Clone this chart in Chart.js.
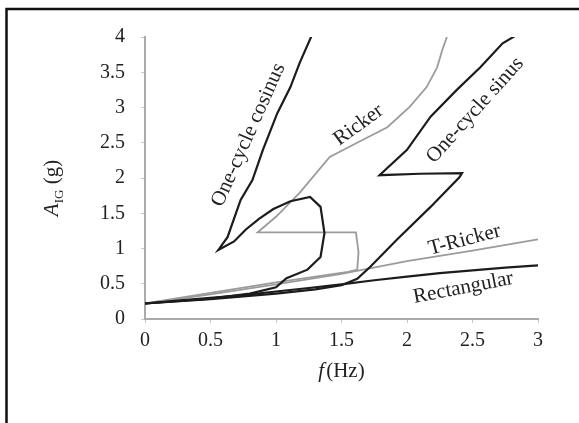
<!DOCTYPE html>
<html><head><meta charset="utf-8">
<script src="https://cdn.jsdelivr.net/npm/chart.js@4/dist/chart.umd.min.js"></script>
<style>html,body{margin:0;padding:0;background:#fff}</style>
</head><body>
<canvas id="c" width="579" height="423"></canvas>
<script>
// Tick values
const xTicks = [0, 0.5, 1, 1.5, 2, 2.5, 3];
const yTicks = [0, 0.5, 1, 1.5, 2, 2.5, 3, 3.5, 4];

// Series: One-cycle cosinus (black)
const cosF = [0, 0.5, 0.8, 1.0, 1.08, 1.24, 1.34, 1.37, 1.34, 1.26, 1.11, 0.98, 0.87, 0.77, 0.68, 0.56, 0.63, 0.73, 0.82, 0.90, 1.01, 1.11, 1.18, 1.27];
const cosA = [0.22, 0.29, 0.36, 0.45, 0.58, 0.70, 0.88, 1.22, 1.59, 1.73, 1.67, 1.56, 1.42, 1.27, 1.10, 0.98, 1.16, 1.69, 1.97, 2.40, 2.92, 3.29, 3.63, 4.01];

// Series: Ricker (grey)
const rickF = [0, 0.5, 1.0, 1.3, 1.55, 1.62, 1.63, 1.61, 1.3, 0.86, 1.0, 1.18, 1.41, 1.66, 1.85, 2.02, 2.15, 2.23, 2.27, 2.31];
const rickA = [0.22, 0.37, 0.52, 0.60, 0.67, 0.70, 0.95, 1.23, 1.23, 1.23, 1.45, 1.79, 2.30, 2.54, 2.72, 3.01, 3.29, 3.57, 3.82, 4.03];

// Series: One-cycle sinus (black)
const sinF = [0, 0.5, 1.0, 1.3, 1.5, 1.62, 1.72, 1.92, 2.18, 2.40, 2.42, 2.10, 1.79, 2.0, 2.18, 2.38, 2.56, 2.73, 2.82];
const sinA = [0.22, 0.28, 0.36, 0.42, 0.48, 0.57, 0.74, 1.12, 1.59, 2.01, 2.07, 2.06, 2.04, 2.40, 2.87, 3.25, 3.57, 3.91, 4.01];

// Series: T-Ricker (grey)
const tRickF = [0, 0.5, 1.0, 1.5, 2.0, 2.5, 3.0];
const tRickA = [0.22, 0.35, 0.49, 0.64, 0.82, 0.97, 1.13];

// Series: Rectangular (black)
const rectF = [0, 0.25, 0.5, 0.75, 1.0, 1.25, 1.5, 1.75, 2.0, 2.25, 2.5, 2.75, 3.0];
const rectA = [0.22, 0.26, 0.30, 0.34, 0.39, 0.44, 0.49, 0.55, 0.60, 0.65, 0.69, 0.73, 0.76];

// Curve labels: text, anchor f, anchor A, angle (deg)
const labelText = ['One-cycle cosinus', 'Ricker', 'One-cycle sinus', 'T-Ricker', 'Rectangular'];
const labelF = [0.79, 1.63, 2.52, 2.44, 2.43];
const labelA = [2.61, 2.75, 2.96, 1.12, 0.44];
const labelAngle = [-66, -36, -48, -14.7, -11];

const BLACK = '#1c1c1c', GREY = '#9b9b9b';
const SERIF = '"Liberation Serif", "DejaVu Serif", serif';

function pts(xs, ys) { return xs.map((x, i) => ({x: x, y: ys[i]})); }
function ds(label, xs, ys, color, w, order) {
  return {label, data: pts(xs, ys), showLine: true, borderColor: color, backgroundColor: color,
    borderWidth: w, pointRadius: 0, pointHoverRadius: 0, tension: 0, fill: false, order};
}

const decor = {
  id: 'decor',
  afterDraw(chart) {
    const c = chart.ctx, xs = chart.scales.x, ys = chart.scales.y;
    c.save();
    // frame
    c.strokeStyle = '#111'; c.lineWidth = 2.5;
    c.beginPath(); c.moveTo(6.5, 423); c.lineTo(6.5, 9); c.lineTo(579, 9); c.stroke();
    c.fillStyle = '#222';
    // curve labels
    c.font = '21px ' + SERIF; c.textAlign = 'center'; c.textBaseline = 'middle';
    for (let i = 0; i < labelText.length; i++) {
      c.save();
      c.translate(xs.getPixelForValue(labelF[i]), ys.getPixelForValue(labelA[i]));
      c.rotate(labelAngle[i] * Math.PI / 180);
      c.fillText(labelText[i], 0, 0);
      c.restore();
    }
    // x title: f (Hz)
    const midX = (chart.chartArea.left + chart.chartArea.right) / 2;
    const ty = 377;
    c.textBaseline = 'alphabetic'; c.textAlign = 'left';
    c.font = 'italic 21px ' + SERIF; const w1 = c.measureText('f').width;
    c.font = '21px ' + SERIF; const w2 = c.measureText('(Hz)').width;
    let sx = midX - (w1 + 2 + w2) / 2;
    c.font = 'italic 21px ' + SERIF; c.fillText('f', sx, ty);
    c.font = '21px ' + SERIF; c.fillText('(Hz)', sx + w1 + 2, ty);
    // y title: A_IG (g)
    c.save();
    c.translate(58, 188); c.rotate(-Math.PI / 2);
    c.font = 'italic 21px ' + SERIF; const a1 = c.measureText('A').width;
    c.font = '13px ' + SERIF; const a2 = c.measureText('IG').width;
    c.font = '21px ' + SERIF; const a3 = c.measureText(' (g)').width;
    let s = -(a1 + a2 + a3) / 2;
    c.font = 'italic 21px ' + SERIF; c.fillText('A', s, 0);
    c.font = '13px ' + SERIF; c.fillText('IG', s + a1, 5);
    c.font = '21px ' + SERIF; c.fillText(' (g)', s + a1 + a2, 0);
    c.restore();
    c.restore();
  }
};

const tickFont = {family: SERIF, size: 20};
const fmt = v => String(Math.round(v * 10) / 10);
new Chart(document.getElementById('c'), {
  type: 'scatter',
  data: {datasets: [
    ds('One-cycle cosinus', cosF, cosA, BLACK, 2.2, 0),
    ds('One-cycle sinus', sinF, sinA, BLACK, 2.2, 0),
    ds('Rectangular', rectF, rectA, BLACK, 2.2, 0),
    ds('Ricker', rickF, rickA, GREY, 1.8, 1),
    ds('T-Ricker', tRickF, tRickA, GREY, 1.8, 1)
  ]},
  options: {
    responsive: false, animation: false, devicePixelRatio: 1,
    layout: {padding: {top: 37, right: 41, left: 0, bottom: 0}},
    plugins: {legend: {display: false}, tooltip: {enabled: false}, title: {display: false}},
    scales: {
      x: {type: 'linear', min: 0, max: 3,
        afterBuildTicks(s) { s.ticks = xTicks.map(v => ({value: v})); },
        ticks: {font: tickFont, color: '#222', padding: 6, maxRotation: 0, autoSkip: false, callback: fmt},
        grid: {display: true, drawOnChartArea: false, drawTicks: true, tickLength: 4, color: '#c8c8c8'},
        border: {display: true, color: '#aaa', width: 2},
        afterFit(s) { s.height = 104; }
      },
      y: {type: 'linear', min: 0, max: 4,
        afterBuildTicks(s) { s.ticks = yTicks.map(v => ({value: v})); },
        ticks: {font: tickFont, color: '#222', padding: 16, autoSkip: false, callback: fmt},
        grid: {display: true, drawOnChartArea: false, drawTicks: true, tickLength: 4, color: '#c8c8c8'},
        border: {display: true, color: '#aaa', width: 2},
        afterFit(s) { s.width = 145; }
      }
    }
  },
  plugins: [decor]
});
</script>
</body></html>
